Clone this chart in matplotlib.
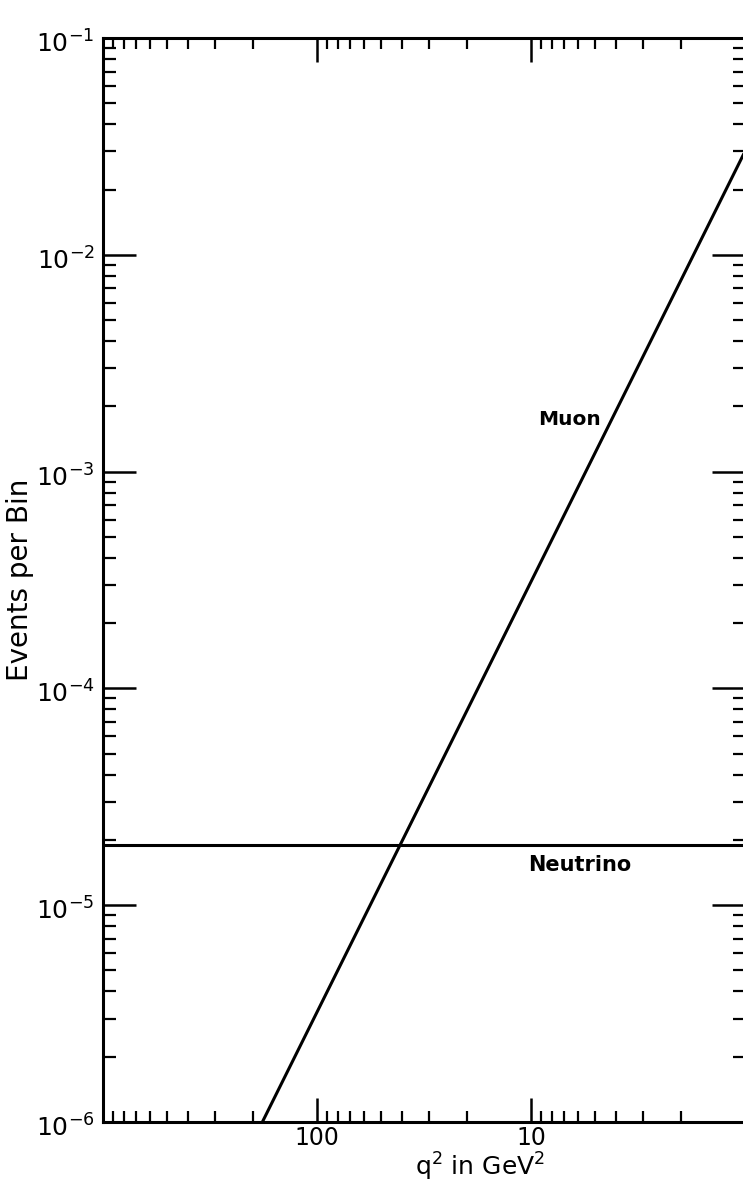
import matplotlib
matplotlib.use('Agg')
import matplotlib.pyplot as plt
from matplotlib.ticker import LogLocator, FixedLocator, FixedFormatter, NullFormatter
from matplotlib.transforms import ScaledTranslation

# valores
q2_muon = [180, 1.0]
eventos_muon = [1.0e-6, 3.0e-2]
q2_neutrino = [1000, 1]
eventos_neutrino = [1.9e-5, 1.9e-5]

y_ticks = [1e-1, 1e-2, 1e-3, 1e-4, 1e-5, 1e-6]
y_labels = [r'$10^{-1}$', r'$10^{-2}$', r'$10^{-3}$', r'$10^{-4}$', r'$10^{-5}$', r'$10^{-6}$']
x_ticks = [1000, 100, 10, 1]
x_labels = ['', '100', '10', '']

plt.rcParams['font.family'] = ['DejaVu Sans']
plt.rcParams['mathtext.fontset'] = 'dejavusans'

fig = plt.figure(figsize=(7.43, 11.86), dpi=100)
W, H = 743, 1186
ax = fig.add_axes([103 / W, (H - 1122) / H, 642 / W, 1084 / H])

ax.plot(q2_muon, eventos_muon, color='black', lw=2.2, solid_capstyle='butt')
ax.plot(q2_neutrino, eventos_neutrino, color='black', lw=2.2, solid_capstyle='butt')

ax.set_xscale('log')
ax.set_yscale('log')
ax.set_xlim(1000, 1)
ax.set_ylim(1e-6, 1e-1)

ax.xaxis.set_major_locator(FixedLocator(x_ticks))
ax.xaxis.set_major_formatter(FixedFormatter(x_labels))
ax.xaxis.set_minor_locator(LogLocator(base=10, subs=range(2, 10), numticks=20))
ax.xaxis.set_minor_formatter(NullFormatter())
ax.yaxis.set_major_locator(FixedLocator(y_ticks))
ax.yaxis.set_major_formatter(FixedFormatter(y_labels))
ax.yaxis.set_minor_locator(LogLocator(base=10, subs=range(2, 10), numticks=20))
ax.yaxis.set_minor_formatter(NullFormatter())

ax.tick_params(axis='x', which='major', direction='in', top=True, bottom=True,
               length=17, width=1.8, labelsize=17, pad=3)
ax.tick_params(axis='x', which='minor', direction='in', top=True, bottom=True,
               length=8, width=1.6)
ax.tick_params(axis='y', which='major', direction='in', left=True, right=True,
               length=24, width=1.8, labelsize=18, pad=6)
ax.tick_params(axis='y', which='minor', direction='in', left=True, right=True,
               length=9, width=1.6)

# bajar un poco las etiquetas del eje y
bajar = ScaledTranslation(0, -6 / 100, fig.dpi_scale_trans)
for lbl in ax.get_yticklabels():
    lbl.set_verticalalignment('center')
    lbl.set_transform(lbl.get_transform() + bajar)

for s in ax.spines.values():
    s.set_linewidth(2.2)

ax.set_xlabel(r'q$^2$ in GeV$^2$', fontsize=18)
ax.xaxis.set_label_coords((480 - 103) / 642, -(1167 - 1122) / 1084)
ax.xaxis.label.set_va('center')
ax.set_ylabel('Events per Bin', fontsize=20)
ax.yaxis.set_label_coords(-(103 - 20) / 642, 0.5)
ax.yaxis.label.set_va('center')

ax.text(6.6, 1.73e-3, 'Muon', fontsize=14.5, fontweight='bold', ha='center', va='center')
ax.text(5.9, 1.53e-5, 'Neutrino', fontsize=15, fontweight='bold', ha='center', va='center')

fig.savefig('out.png', dpi=100)
